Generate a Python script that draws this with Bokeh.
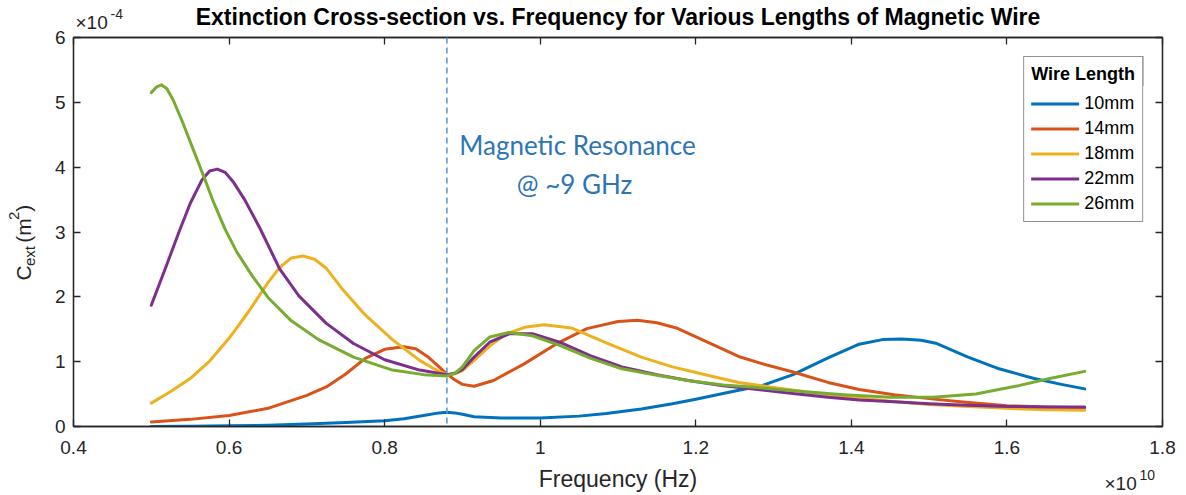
import math
from bokeh.plotting import figure
from bokeh.layouts import column, row
from bokeh.models import (LinearAxis, FixedTicker, Label, Span, BoxAnnotation,
                          Legend, LegendItem, Range1d)
from bokeh.embed import file_html
from bokeh.resources import INLINE

# ---------------- data (frequency in GHz, C_ext in 1e-4 m^2) ----------------
f_10 = [5.0, 5.5, 6.0, 6.5, 7.0, 7.5, 8.0, 8.25, 8.5, 8.7, 8.8, 8.9, 9.0, 9.15, 9.5,
        10.0, 10.5, 10.85, 11.3, 11.7, 12.0, 12.35, 12.6, 12.85, 13.25, 13.7, 14.1,
        14.4, 14.65, 14.9, 15.1, 15.5, 15.9, 16.35, 16.7, 17.0]
c_10 = [0.00, 0.005, 0.01, 0.02, 0.04, 0.06, 0.09, 0.12, 0.17, 0.21, 0.22, 0.21, 0.19,
        0.15, 0.13, 0.13, 0.16, 0.20, 0.27, 0.35, 0.42, 0.51, 0.57, 0.63, 0.80, 1.06,
        1.27, 1.34, 1.35, 1.33, 1.28, 1.07, 0.89, 0.74, 0.65, 0.58]

f_14 = [5.0, 5.5, 6.0, 6.5, 7.0, 7.25, 7.5, 7.75, 8.0, 8.25, 8.4, 8.55, 8.7, 8.8, 8.9,
        9.0, 9.15, 9.4, 9.8, 10.2, 10.6, 11.0, 11.25, 11.5, 11.75, 12.15, 12.55, 12.85,
        13.25, 13.7, 14.1, 14.55, 15.0, 15.4, 16.0, 16.5, 17.0]
c_14 = [0.07, 0.11, 0.17, 0.28, 0.48, 0.61, 0.81, 1.05, 1.19, 1.23, 1.20, 1.08, 0.92,
        0.81, 0.72, 0.65, 0.62, 0.71, 0.97, 1.27, 1.51, 1.62, 1.64, 1.60, 1.52, 1.30,
        1.08, 0.97, 0.84, 0.68, 0.57, 0.49, 0.43, 0.38, 0.32, 0.30, 0.29]

f_18 = [5.0, 5.25, 5.5, 5.75, 6.0, 6.25, 6.5, 6.65, 6.8, 6.95, 7.1, 7.25, 7.45, 7.75,
        8.1, 8.45, 8.65, 8.8, 8.9, 9.0, 9.15, 9.35, 9.55, 9.8, 10.05, 10.4, 10.85, 11.3,
        11.7, 12.15, 12.55, 12.95, 13.5, 14.0, 14.5, 15.0, 15.5, 16.0, 16.5, 17.0]
c_18 = [0.36, 0.54, 0.74, 1.01, 1.36, 1.77, 2.22, 2.45, 2.60, 2.63, 2.58, 2.44, 2.13,
        1.72, 1.34, 1.02, 0.88, 0.80, 0.81, 0.86, 1.02, 1.24, 1.42, 1.53, 1.57, 1.52,
        1.29, 1.07, 0.92, 0.79, 0.68, 0.61, 0.52, 0.45, 0.39, 0.34, 0.31, 0.28, 0.26, 0.25]

f_22 = [5.0, 5.2, 5.35, 5.5, 5.65, 5.75, 5.85, 5.95, 6.05, 6.2, 6.4, 6.65, 6.9, 7.25,
        7.6, 8.0, 8.45, 8.8, 8.9, 9.0, 9.15, 9.35, 9.6, 9.9, 10.25, 10.65, 11.05, 11.5,
        11.9, 12.35, 12.8, 13.25, 13.7, 14.1, 14.55, 15.0, 15.4, 16.0, 16.5, 17.0]
c_22 = [1.87, 2.50, 2.98, 3.44, 3.80, 3.94, 3.97, 3.92, 3.78, 3.50, 3.05, 2.43, 2.01,
        1.59, 1.28, 1.03, 0.87, 0.80, 0.82, 0.88, 1.07, 1.30, 1.43, 1.43, 1.30, 1.09,
        0.92, 0.80, 0.71, 0.63, 0.57, 0.51, 0.45, 0.41, 0.38, 0.35, 0.33, 0.31, 0.30, 0.30]

f_26 = [5.0, 5.07, 5.13, 5.2, 5.28, 5.4, 5.55, 5.7, 5.8, 5.95, 6.1, 6.3, 6.5, 6.8, 7.15,
        7.6, 8.1, 8.5, 8.8, 8.9, 9.0, 9.15, 9.35, 9.6, 9.9, 10.25, 10.65, 11.05, 11.5,
        11.9, 12.35, 12.8, 13.25, 13.9, 14.5, 15.05, 15.6, 16.15, 16.55, 17.0]
c_26 = [5.15, 5.24, 5.27, 5.21, 5.04, 4.70, 4.24, 3.78, 3.46, 3.04, 2.69, 2.32, 1.99,
        1.63, 1.34, 1.07, 0.87, 0.80, 0.78, 0.82, 0.92, 1.17, 1.38, 1.45, 1.40, 1.25,
        1.05, 0.89, 0.79, 0.71, 0.64, 0.60, 0.55, 0.49, 0.45, 0.45, 0.50, 0.63, 0.74, 0.85]

series_names = ["10mm", "14mm", "18mm", "22mm", "26mm"]
series_f = [f_10, f_14, f_18, f_22, f_26]
series_c = [c_10, c_14, c_18, c_22, c_26]
colors = ["#0072BD", "#D95319", "#EDB120", "#7E2F8E", "#77AC30"]

x_ticks = [0.4, 0.6, 0.8, 1.0, 1.2, 1.4, 1.6, 1.8]
x_tick_labels = ["0.4", "0.6", "0.8", "1", "1.2", "1.4", "1.6", "1.8"]
y_ticks = [0, 1, 2, 3, 4, 5, 6]
y_tick_labels = ["0", "1", "2", "3", "4", "5", "6"]
resonance_ghz = 8.8

# ---------------- layout constants (canvas pixels) ----------------
W, H = 1186, 495
FL, FR, FT, FB = 73, 1162, 37, 426      # plot frame
TOP_H = 30                              # title strip
LEFT_W = 40                             # y-label strip
M_TOP_BORDER = FT - TOP_H
M_BOT_BORDER = 38
M_H = M_TOP_BORDER + (FB - FT) + M_BOT_BORDER
BOT_Y0 = TOP_H + M_H
BOT_H = H - BOT_Y0
XMIN, XMAX, YMIN, YMAX = 0.4, 1.8, 0.0, 6.0

FONT = "Liberation Sans"
AX = "#262626"


def strip(w, h, x0, y0):
    """A bare figure whose data coordinates equal canvas pixels."""
    s = figure(width=w, height=h, x_range=Range1d(x0, x0 + w),
               y_range=Range1d(y0 + h, y0), output_backend="svg",
               toolbar_location=None, x_axis_type=None, y_axis_type=None,
               min_border=0)
    s.xgrid.visible = False
    s.ygrid.visible = False
    s.outline_line_color = None
    s.background_fill_color = "white"
    s.border_fill_color = "white"
    return s


def lab(fig, text, px, py, size, align="left", baseline="middle",
        color=AX, style="normal", font=FONT, angle=0.0):
    fig.add_layout(Label(x=px, y=py, text=text, text_font=font,
                         text_font_size=size, text_align=align,
                         text_baseline=baseline, text_color=color,
                         text_font_style=style, angle=angle))


# ---------------- main plot ----------------
p = figure(width=W - LEFT_W, height=M_H, x_range=Range1d(XMIN, XMAX),
           y_range=Range1d(YMIN, YMAX), output_backend="svg",
           toolbar_location=None, min_border_left=FL - LEFT_W,
           min_border_right=W - FR, min_border_top=M_TOP_BORDER,
           min_border_bottom=M_BOT_BORDER)
p.xgrid.visible = False
p.ygrid.visible = False
p.outline_line_color = AX
p.outline_line_width = 1.3
p.background_fill_color = "white"
p.border_fill_color = "white"


def style_axis(ax, ticks, labels, show_labels=True):
    ax.ticker = FixedTicker(ticks=ticks)
    ax.major_tick_in = 7
    ax.major_tick_out = 0
    ax.major_tick_line_color = AX
    ax.major_tick_line_width = 1.3
    ax.minor_tick_line_color = None
    ax.axis_line_color = AX
    ax.axis_line_width = 1.3
    ax.major_label_text_font = FONT
    if show_labels:
        ax.major_label_overrides = {t: l for t, l in zip(ticks, labels)}
        ax.major_label_text_font_size = "19px"
        ax.major_label_text_color = AX
    else:
        ax.major_label_text_font_size = "0px"
        ax.major_label_text_color = None
        ax.major_label_standoff = 0


style_axis(p.xaxis[0], x_ticks, x_tick_labels)
style_axis(p.yaxis[0], y_ticks, y_tick_labels)
p.xaxis[0].major_label_standoff = 14
p.yaxis[0].major_label_standoff = 8

top_ax = LinearAxis()
style_axis(top_ax, x_ticks, x_tick_labels, show_labels=False)
p.add_layout(top_ax, "above")
right_ax = LinearAxis()
style_axis(right_ax, y_ticks, y_tick_labels, show_labels=False)
p.add_layout(right_ax, "right")

items = []
for name, fs, cs, col in zip(series_names, series_f, series_c, colors):
    r = p.line([f / 10.0 for f in fs], cs, line_color=col, line_width=3,
               line_join="round", line_cap="round")
    items.append(LegendItem(label=name, renderers=[r]))

p.add_layout(Span(location=resonance_ghz / 10.0, dimension="height",
                  line_color="#5B9BD5", line_dash="6 4", line_width=1.6))

legend = Legend(items=items, location="top_right", title="Wire Length",
                title_text_font=FONT, title_text_font_style="bold",
                title_text_font_size="18px", title_text_color="black",
                label_text_font=FONT, label_text_font_size="18px",
                label_text_color="black", glyph_width=48, glyph_height=19,
                label_height=19, label_standoff=5, padding=7, spacing=4,
                margin=19, border_line_color=AX, border_line_width=1,
                background_fill_color="white", background_fill_alpha=1,
                title_standoff=8)
p.add_layout(legend)


def px2x(px):
    return XMIN + (px - FL) * (XMAX - XMIN) / (FR - FL)


def py2y(py):
    return YMIN + (FB - py) * (YMAX - YMIN) / (FB - FT)


p.add_layout(BoxAnnotation(left=px2x(1025), right=px2x(1143), top=py2y(56),
                           bottom=py2y(85), fill_color=None, fill_alpha=0,
                           line_color=AX, line_width=1, level="overlay"))

lab(p, "Magnetic Resonance", px2x(577), py2y(144), "26px", align="center",
    color="#2E75B6", font="Lato")
lab(p, "@ ~9 GHz", px2x(574), py2y(183), "26px", align="center",
    color="#2E75B6", font="Lato")

# ---------------- top strip: title and y exponent ----------------
top = strip(W, TOP_H, 0, 0)
lab(top, "Extinction Cross-section vs. Frequency for Various Lengths of Magnetic Wire",
    (FL + FR) / 2, 16.5, "23px", align="center", color="black", style="bold")
lab(top, "\u00d710", 75, 21.5, "19px")
lab(top, "-4", 110, 13.5, "14px")

# ---------------- left strip: y-axis label  C_ext (m^2) ----------------
left = strip(LEFT_W, M_H, 0, TOP_H)
A = math.pi / 2
lab(left, "C", 22.6, 301, "21px", angle=A)
lab(left, "ext", 28.8, 285, "15px", angle=A)
lab(left, "(m", 22.6, 259, "21px", angle=A)
lab(left, "2", 13.8, 233.5, "15px", angle=A)
lab(left, ")", 22.6, 224.5, "21px", angle=A)

# ---------------- bottom strip: x-axis label and x exponent ----------------
bot = strip(W, BOT_H, 0, BOT_Y0)
lab(bot, "Frequency (Hz)", (FL + FR) / 2, 478, "23px", align="center")
lab(bot, "\u00d710", 1104, 483, "19px")
lab(bot, "10", 1139, 474, "14px")

layout = column(top, row(left, p), bot)
open("out.html", "w").write(file_html(layout, INLINE))
